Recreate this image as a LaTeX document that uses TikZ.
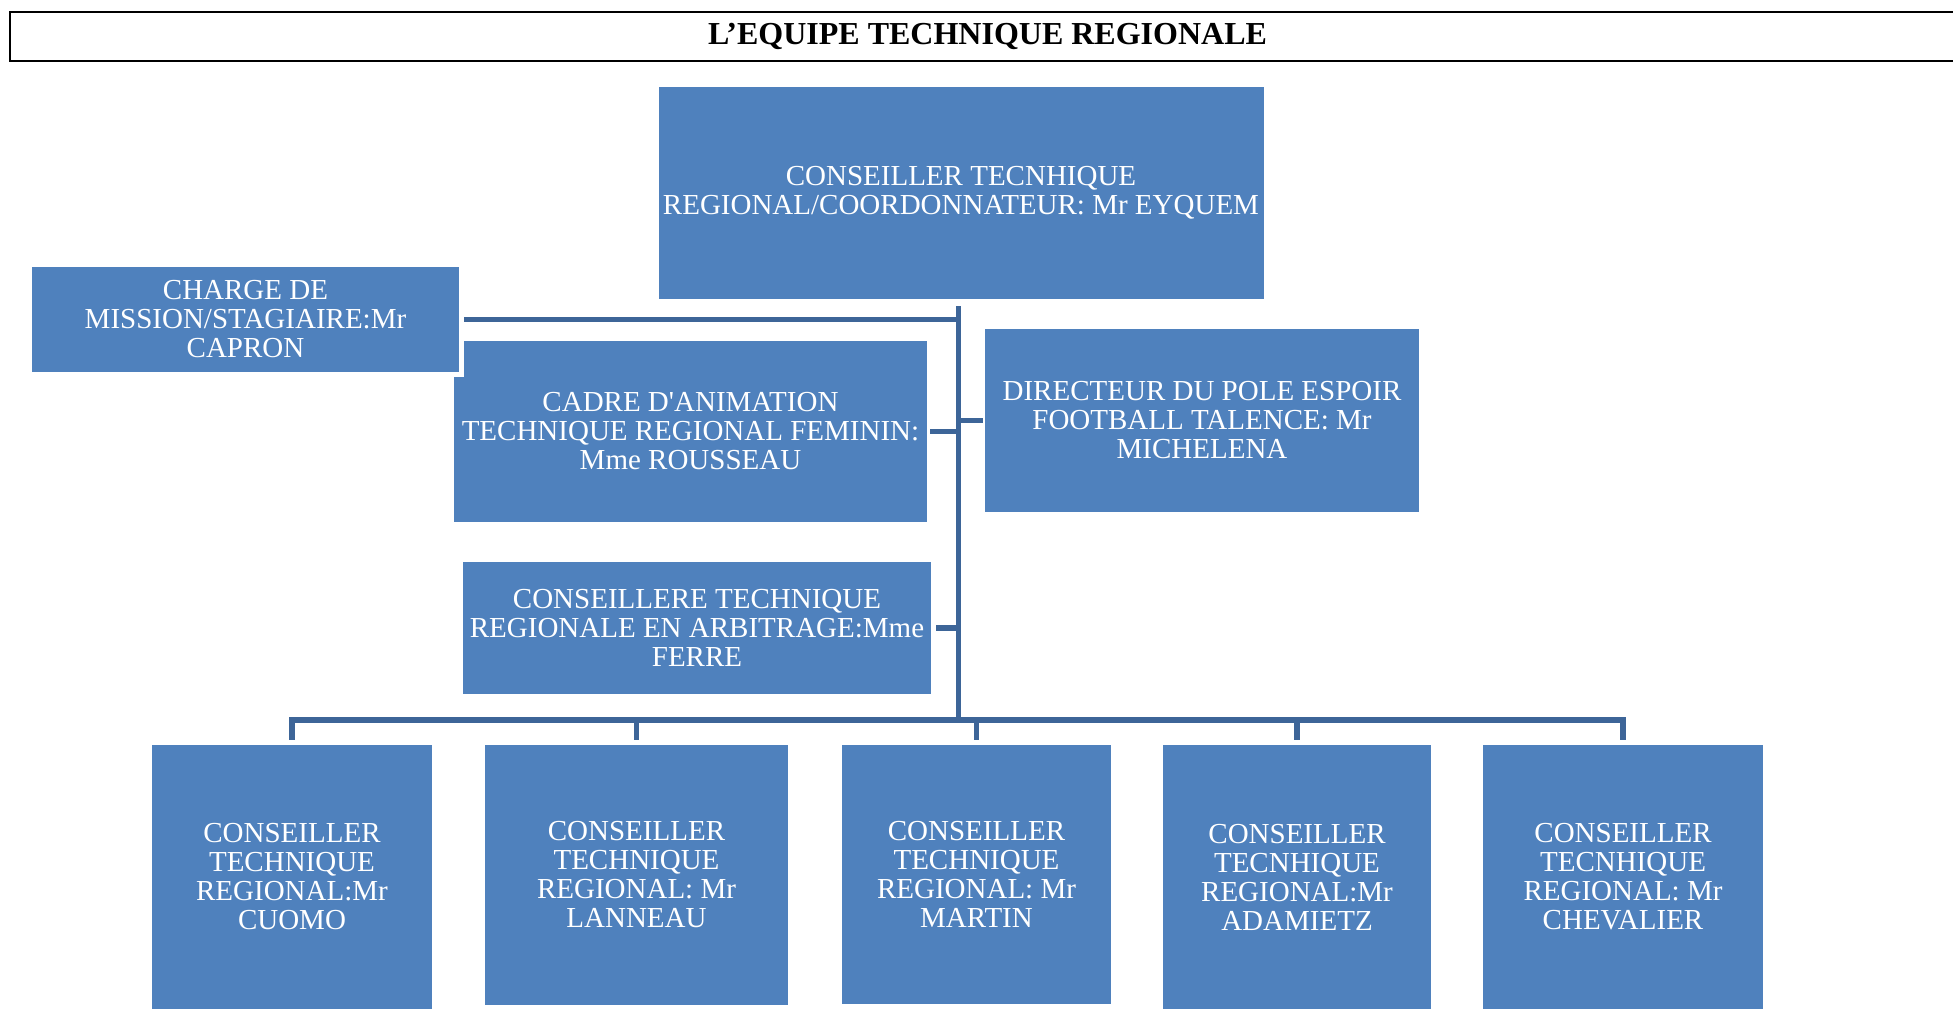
\documentclass[tikz,border=0pt]{standalone}
\usepackage{fontspec}
\setmainfont{Liberation Serif}
\definecolor{boxblue}{HTML}{4F81BD}
\definecolor{linkblue}{HTML}{3D6598}
\begin{document}
\begin{tikzpicture}[x=0.5pt,y=-0.5pt,
  orgbox/.style={rectangle, fill=boxblue, text=white, inner sep=0pt, align=center,
    font=\fontsize{14.5pt}{14.5pt}\selectfont},
  titlebox/.style={rectangle, draw=black, line width=1pt, inner sep=0pt,
    minimum width=982.5pt, minimum height=24.5pt,
    font=\bfseries\fontsize{16pt}{16pt}\selectfont},
  link/.style={draw=linkblue, line width=2.8pt}
]
\useasboundingbox (0,0) rectangle (1953,1009);

% title
\node[titlebox] (title) at (992.5,36.5) {\hspace*{-5pt}L’EQUIPE TECHNIQUE REGIONALE};

% boxes
\node[orgbox, minimum width=302.5pt, minimum height=106pt] (top) at (961,193)
  {CONSEILLER TECNHIQUE\\REGIONAL/COORDONNATEUR: Mr EYQUEM};
\node[orgbox, minimum width=236.5pt, minimum height=90.5pt] (cadre) at (690.5,431.5)
  {CADRE D\textquotesingle ANIMATION\\TECHNIQUE REGIONAL FEMININ:\\Mme ROUSSEAU};
\fill[white] (27,262) rectangle (464,377);
\node[orgbox, minimum width=213.5pt, minimum height=52.5pt] (charge) at (245.5,319.5)
  {CHARGE DE\\MISSION/STAGIAIRE:Mr\\CAPRON};
\node[orgbox, minimum width=217pt, minimum height=91.5pt] (dir) at (1202,420.5)
  {DIRECTEUR DU POLE ESPOIR\\FOOTBALL TALENCE: Mr\\MICHELENA};
\node[orgbox, minimum width=234pt, minimum height=66pt] (arb) at (697,628)
  {CONSEILLERE TECHNIQUE\\REGIONALE EN ARBITRAGE:Mme\\FERRE};

\node[orgbox, minimum width=140pt, minimum height=132pt] (b1) at (292,877)
  {CONSEILLER\\TECHNIQUE\\REGIONAL:Mr\\CUOMO};
\node[orgbox, minimum width=151.5pt, minimum height=130pt] (b2) at (636.5,875)
  {CONSEILLER\\TECHNIQUE\\REGIONAL: Mr\\LANNEAU};
\node[orgbox, minimum width=134.5pt, minimum height=129.5pt] (b3) at (976.5,874.5)
  {CONSEILLER\\TECHNIQUE\\REGIONAL: Mr\\MARTIN};
\node[orgbox, minimum width=134pt, minimum height=132pt] (b4) at (1297,877)
  {CONSEILLER\\TECNHIQUE\\REGIONAL:Mr\\ADAMIETZ};
\node[orgbox, minimum width=140pt, minimum height=132pt] (b5) at (1623,877)
  {CONSEILLER\\TECNHIQUE\\REGIONAL: Mr\\CHEVALIER};

% connectors
\coordinate (bus) at (958.5,720);
\draw[link, shorten <=3.5pt] (top.south -| bus) -- (bus);
\draw[link, shorten <=2.5pt] (charge.east) -- (charge.east -| bus);
\draw[link, shorten <=1.5pt] (cadre.east) -- (cadre.east -| bus);
\draw[link, shorten >=1pt] (dir.west -| bus) -- (dir.west);
\draw[link, shorten <=2.5pt] (arb.east) -- (arb.east -| bus);
\draw[link, shorten <=2.5pt, shorten >=2.5pt]
  (b1.north) -- (b1.north |- bus) -- (b5.north |- bus) -- (b5.north);
\draw[link, shorten >=2.5pt] (b2.north |- bus) -- (b2.north);
\draw[link, shorten >=2.5pt] (b3.north |- bus) -- (b3.north);
\draw[link, shorten >=2.5pt] (b4.north |- bus) -- (b4.north);
\end{tikzpicture}
\end{document}
